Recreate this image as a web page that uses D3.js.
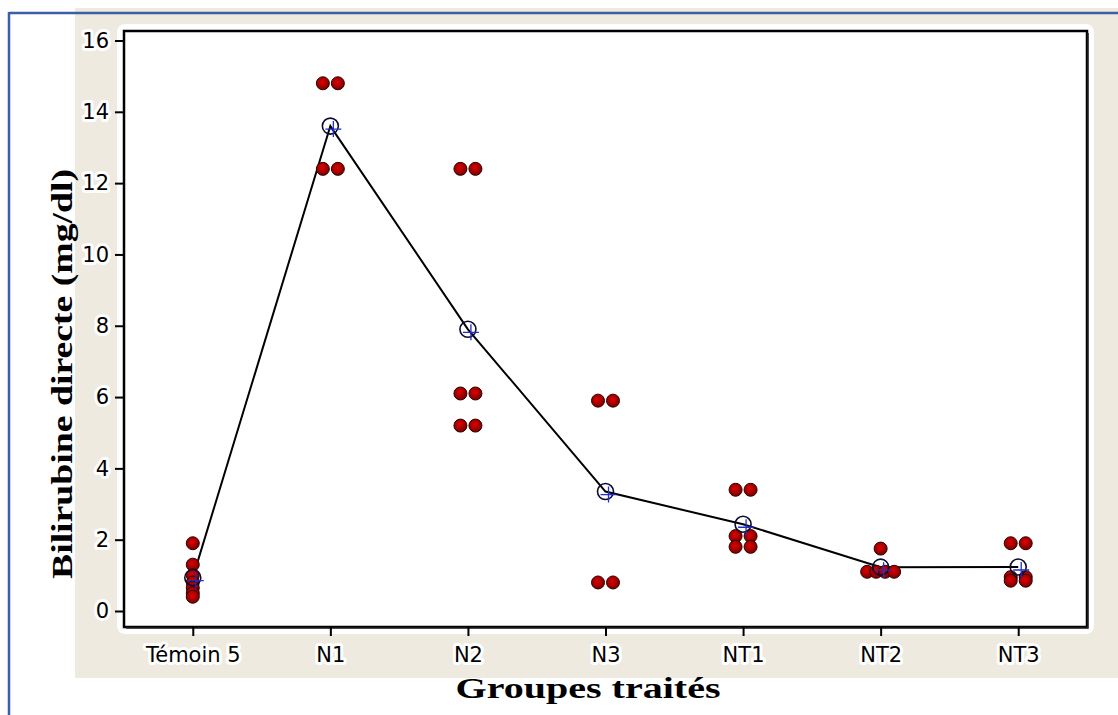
<!DOCTYPE html>
<html>
<head>
<meta charset="utf-8">
<script src="https://cdn.jsdelivr.net/npm/d3@7"></script>
<style>
  body { margin: 0; background: #fff; }
  svg { display: block; }
  .tick text { font-family: "DejaVu Sans", sans-serif; font-size: 21px; fill: #000;
    stroke: #fff; stroke-width: 6px; stroke-linejoin: round; paint-order: stroke; }
  .title { font-family: "Liberation Serif", "Times New Roman", serif; font-weight: bold; fill: #000; }
</style>
</head>
<body>
<div id="chart"></div>
<script>
const groups = ['Témoin 5', 'N1', 'N2', 'N3', 'NT1', 'NT2', 'NT3'];
// individual values per group (mg/dl)
const temoinVals = [1.9, 1.3, 1.0, 0.8, 0.65, 0.5, 0.4];
const n1Vals = [14.8, 14.8, 12.4, 12.4];
const n2Vals = [12.4, 12.4, 6.1, 6.1, 5.2, 5.2];
const n3Vals = [5.9, 5.9, 0.8, 0.8];
const nt1Vals = [3.4, 3.4, 2.1, 2.1, 1.8, 1.8];
const nt2Vals = [1.75, 1.1, 1.1, 1.1, 1.1];
const nt3Vals = [1.9, 1.9, 0.95, 0.95, 0.85, 0.85];
const allVals = [temoinVals, n1Vals, n2Vals, n3Vals, nt1Vals, nt2Vals, nt3Vals];
const yTicks = [0, 2, 4, 6, 8, 10, 12, 14, 16];

const width = 1118, height = 715;
const plot = {left: 124, top: 31, right: 1087, bottom: 627};

const svg = d3.select('#chart').append('svg')
  .attr('width', width)
  .attr('height', height);

// page background / frame
svg.append('rect').attr('x', 75).attr('y', 8).attr('width', width - 75).attr('height', 670)
  .attr('fill', '#eeeae0');
svg.append('line').attr('x1', 9).attr('x2', width).attr('y1', 13).attr('y2', 13)
  .attr('stroke', '#3b5ea6').attr('stroke-width', 2.5);
svg.append('line').attr('x1', 9).attr('x2', 9).attr('y1', 12).attr('y2', height)
  .attr('stroke', '#3b5ea6').attr('stroke-width', 2.5);

// white halo round the plot
svg.append('rect').attr('x', plot.left - 7).attr('y', plot.top - 7)
  .attr('width', plot.right - plot.left + 14).attr('height', plot.bottom - plot.top + 14)
  .attr('rx', 8).attr('fill', '#fff');

svg.append('rect').attr('x', plot.left).attr('y', plot.top)
  .attr('width', plot.right - plot.left).attr('height', plot.bottom - plot.top)
  .attr('fill', '#fff').attr('stroke', '#000').attr('stroke-width', 2.5);
// slightly heavier right / bottom edge
svg.append('path')
  .attr('d', 'M' + (plot.right + 1) + ',' + (plot.top + 2) + 'V' + (plot.bottom + 1) + 'H' + (plot.left + 2))
  .attr('fill', 'none').attr('stroke', '#222').attr('stroke-width', 1.5);

const x = d3.scalePoint().domain(groups).range([plot.left, plot.right]).padding(0.5);
const y = d3.scaleLinear().domain([0, 16]).range([611, 40.5]);

const yAxis = svg.append('g')
  .attr('transform', 'translate(' + plot.left + ',0)')
  .call(d3.axisLeft(y).tickValues(yTicks).tickSize(9).tickPadding(6));
const xAxis = svg.append('g')
  .attr('transform', 'translate(0,' + plot.bottom + ')')
  .call(d3.axisBottom(x).tickSize(9).tickPadding(8));
[yAxis, xAxis].forEach(function(a) {
  a.select('.domain').remove();
  a.selectAll('.tick line').attr('stroke', '#000').attr('stroke-width', 2);
});
xAxis.selectAll('.tick text').attr('dy', '0.85em');

// gradient for the dots
const grad = svg.append('defs').append('radialGradient').attr('id', 'dot')
  .attr('cx', '45%').attr('cy', '40%').attr('r', '60%');
grad.append('stop').attr('offset', '0%').attr('stop-color', '#e00000');
grad.append('stop').attr('offset', '100%').attr('stop-color', '#7a0000');

// build points, spreading identical values side by side
const points = [];
allVals.forEach(function(vals, gi) {
  const counts = d3.rollup(vals, v => v.length, v => v);
  const seen = new Map();
  vals.forEach(function(v) {
    const n = counts.get(v);
    const k = seen.get(v) || 0;
    seen.set(v, k + 1);
    const step = n === 2 ? 15 : 9;
    points.push({g: groups[gi], v: v, dx: (k - (n - 1) / 2) * step});
  });
});

const means = groups.map(function(g, i) { return {g: g, v: d3.mean(allVals[i])}; });

svg.append('path')
  .datum(means)
  .attr('fill', 'none')
  .attr('stroke', '#000')
  .attr('stroke-width', 2)
  .attr('d', d3.line().x(d => x(d.g)).y(d => y(d.v)));

svg.selectAll('.pt').data(points).enter().append('circle')
  .attr('class', 'pt')
  .attr('cx', d => x(d.g) + d.dx)
  .attr('cy', d => y(d.v))
  .attr('r', 6.5)
  .attr('fill', 'url(#dot)')
  .attr('stroke', '#2a0000')
  .attr('stroke-width', 1);

// mean symbols: open circle with a cross
const m = svg.selectAll('.mean').data(means).enter().append('g')
  .attr('transform', d => 'translate(' + x(d.g) + ',' + y(d.v) + ')');
m.append('circle').attr('r', 8).attr('fill', 'none')
  .attr('stroke', '#0c0c30').attr('stroke-width', 1.6);
m.append('path').attr('d', 'M-5,3H11M3,-5V11')
  .attr('stroke', '#1f2fc8').attr('stroke-width', 1.3).attr('fill', 'none');

// titles
svg.append('text').attr('class', 'title')
  .attr('transform', 'translate(72,374) rotate(-90)')
  .attr('text-anchor', 'middle')
  .attr('font-size', 30)
  .attr('textLength', 410).attr('lengthAdjust', 'spacingAndGlyphs')
  .text('Bilirubine directe (mg/dl)');
svg.append('text').attr('class', 'title')
  .attr('x', 588).attr('y', 698)
  .attr('text-anchor', 'middle')
  .attr('font-size', 30)
  .attr('textLength', 265).attr('lengthAdjust', 'spacingAndGlyphs')
  .text('Groupes traités');
</script>
</body>
</html>
